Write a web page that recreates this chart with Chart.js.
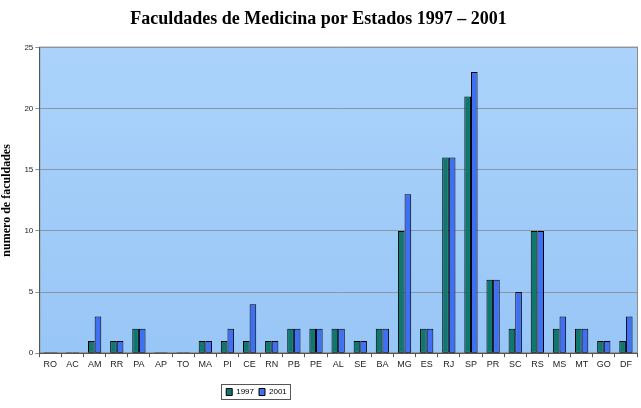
<!DOCTYPE html>
<html>
<head>
<meta charset="utf-8">
<script src="https://cdn.jsdelivr.net/npm/chart.js@4"></script>
<style>
  html, body { margin: 0; padding: 0; background: #fff; }
  #wrap { width: 641px; height: 408px; }
</style>
</head>
<body>
<div id="wrap"><canvas id="chart" width="641" height="408"></canvas></div>
<script>
// states and number of medical schools
const estados = ["RO","AC","AM","RR","PA","AP","TO","MA","PI","CE","RN","PB","PE","AL","SE","BA","MG","ES","RJ","SP","PR","SC","RS","MS","MT","GO","DF"];
const valores1997 = [0,0,1,1,2,0,0,1,1,1,1,2,2,2,1,2,10,2,16,21,6,2,10,2,2,1,1];
const valores2001 = [0,0,3,1,2,0,0,1,2,4,1,2,2,2,1,2,13,2,16,23,6,5,10,3,2,1,3];
const yTicks = [0,5,10,15,20,25];

// light blue gradient behind the bars + grey frame
const plotBg = {
  id: 'plotBg',
  beforeDraw(chart) {
    const {ctx, chartArea: a} = chart;
    const g = ctx.createLinearGradient(0, a.top, 0, a.bottom);
    g.addColorStop(0, '#abd3fb');
    g.addColorStop(1, '#98c6f6');
    ctx.save();
    ctx.fillStyle = g;
    ctx.fillRect(a.left, a.top, a.right - a.left, a.bottom - a.top);
    ctx.strokeStyle = '#8c8c8c';
    ctx.lineWidth = 1;
    ctx.strokeRect(a.left + 0.5, a.top - 0.5, a.right - a.left, a.bottom - a.top);
    ctx.restore();
  }
};

// the legend sits a bit left of centre in the original, with a box round it
const legendBox = {
  id: 'legendBox',
  afterLayout(chart) {
    const l = chart.legend;
    const shift = -62;
    l.left += shift;
    l.right += shift;
    l.legendHitBoxes.forEach(h => { h.left += shift; });
  },
  afterDraw(chart) {
    const l = chart.legend;
    if (!l || !l.legendHitBoxes.length) return;
    const first = l.legendHitBoxes[0];
    const last = l.legendHitBoxes[l.legendHitBoxes.length - 1];
    const ctx = chart.ctx;
    ctx.save();
    ctx.strokeStyle = '#555';
    ctx.lineWidth = 1;
    ctx.strokeRect(Math.round(first.left) - 4.5, Math.round(first.top) - 3.5,
      Math.round(last.left + last.width - first.left) + 8, Math.round(first.height) + 7);
    ctx.restore();
  }
};

new Chart(document.getElementById('chart'), {
  type: 'bar',
  data: {
    labels: estados,
    datasets: [{
      label: '1997',
      data: valores1997,
      backgroundColor: '#0f776d',
      borderColor: '#000',
      borderWidth: 1,
      borderSkipped: false,
      minBarLength: 1
    }, {
      label: '2001',
      data: valores2001,
      backgroundColor: '#3f6ff2',
      borderColor: '#000',
      borderWidth: 1,
      borderSkipped: false,
      minBarLength: 1
    }]
  },
  options: {
    responsive: false,
    animation: false,
    layout: { padding: { left: 0, right: 4, top: 0, bottom: 2 } },
    datasets: { bar: { categoryPercentage: 0.6, barPercentage: 1 } },
    plugins: {
      title: {
        display: true,
        text: 'Faculdades de Medicina por Estados 1997 – 2001',
        color: '#000',
        font: { family: '"Liberation Serif", "Times New Roman", serif', size: 18, weight: 'bold' },
        padding: { top: 9, bottom: 17 }
      },
      legend: {
        position: 'bottom',
        labels: {
          color: '#000',
          font: { family: '"Liberation Sans", Arial, sans-serif', size: 8 },
          boxWidth: 6,
          boxHeight: 7,
          padding: 5,
          useBorderRadius: false
        }
      },
      tooltip: { enabled: false }
    },
    scales: {
      x: {
        afterFit(axis) { axis.height += 11; },
        grid: { display: true, drawOnChartArea: false, drawTicks: true, tickLength: 4, color: '#555', offset: true },
        border: { color: '#555' },
        ticks: { color: '#222', font: { family: '"Liberation Sans", Arial, sans-serif', size: 9 }, maxRotation: 0, autoSkip: false, padding: 2 }
      },
      y: {
        min: 0,
        max: 25,
        afterBuildTicks(axis) { axis.ticks = yTicks.map(v => ({ value: v })); },
        grid: { color: '#8a96a2', drawTicks: true, tickLength: 4 },
        border: { color: '#555' },
        ticks: { color: '#222', font: { family: '"Liberation Sans", Arial, sans-serif', size: 8 }, padding: 2 },
        title: {
          display: true,
          text: 'numero de faculdades',
          color: '#000',
          font: { family: '"Liberation Serif", "Times New Roman", serif', size: 12, weight: 'bold' },
          padding: { top: 0, bottom: 8 }
        }
      }
    }
  },
  plugins: [plotBg, legendBox]
});
</script>
</body>
</html>
